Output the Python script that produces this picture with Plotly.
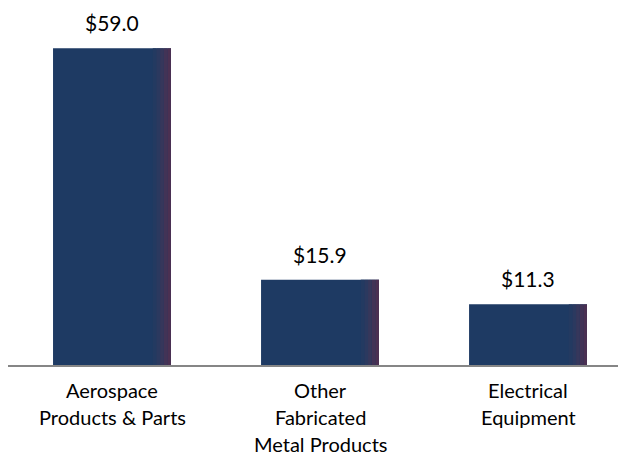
import plotly.graph_objects as go

categories = ['Aerospace<br>Products & Parts', 'Other<br>Fabricated<br>Metal Products', 'Electrical<br>Equipment']
values = [59.0, 15.9, 11.3]
value_labels = ['$59.0', '$15.9', '$11.3']

xs = [0, 1, 2]
bar_w = 0.567
fig = go.Figure()

# main navy bar
fig.add_trace(go.Bar(x=xs, y=values, width=bar_w, marker=dict(color='#1E3A63', line=dict(width=0)),
                     hoverinfo='skip'))

# darker purple edge on the right side of each bar (fake gradient)
edge_colors = ['#233A61', '#2B395F', '#36375B', '#423356', '#4B3052']
strip = 0.0175
for i, c in enumerate(edge_colors):
    off = -bar_w / 2 + bar_w - strip * (len(edge_colors) - i)
    fig.add_trace(go.Bar(x=xs, y=values, width=strip, offset=off,
                         marker=dict(color=c, line=dict(width=0)), hoverinfo='skip'))

for x, v, t in zip(xs, values, value_labels):
    fig.add_annotation(x=x, y=v, text=t, showarrow=False, yanchor='bottom', yshift=12,
                       borderpad=0, font=dict(size=21, color='#000000'))

# category labels, one line at a time to get the wider line spacing
for x, cat in zip(xs, categories):
    for j, line in enumerate(cat.split('<br>')):
        fig.add_annotation(x=x, y=0, text=line, showarrow=False, yanchor='middle',
                           yshift=-(25 + 27 * j), font=dict(size=20, color='#000000'))

fig.update_layout(
    width=618, height=449,
    barmode='overlay',
    showlegend=False,
    plot_bgcolor='white', paper_bgcolor='white',
    margin=dict(l=0, r=0, t=0, b=92),
    font=dict(family='Lato, Open Sans, sans-serif', size=16, color='#000000'),
    xaxis=dict(range=[-0.5, 2.471], showticklabels=False,
               showline=True, linecolor='#868686', linewidth=2, ticks='', showgrid=False,
               zeroline=False),
    yaxis=dict(range=[0, 66.5], visible=False, showgrid=False, zeroline=False),
)

fig.write_html('out.html')
